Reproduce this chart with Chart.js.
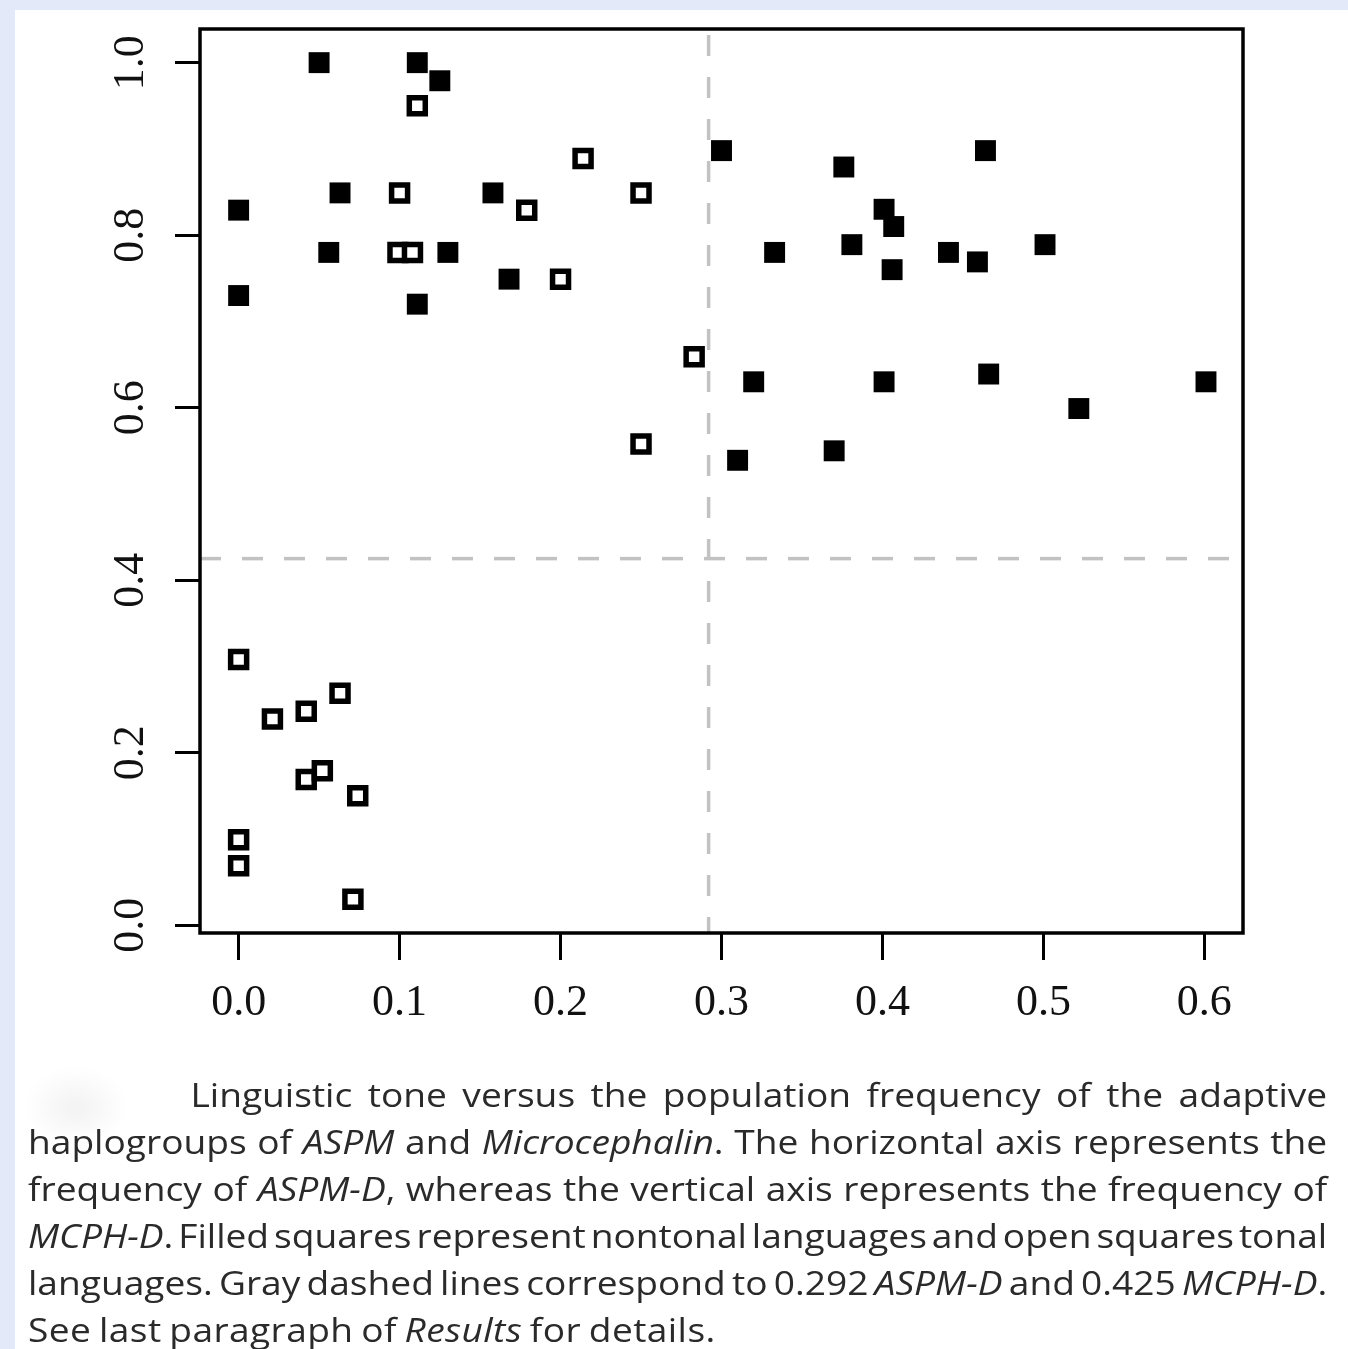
<!DOCTYPE html>
<html>
<head>
<meta charset="utf-8">
<script src="https://cdn.jsdelivr.net/npm/chart.js@4.4.1/dist/chart.umd.min.js"></script>
<style>
  html, body { margin: 0; padding: 0; }
  body { width: 1348px; height: 1349px; background: #e3e9f8; position: relative; overflow: hidden; }
  #panel { position: absolute; left: 15px; top: 10px; right: 0; bottom: 0; background: #fff; }
  #chart-wrap { position: absolute; left: 0; top: 0; width: 1348px; height: 1050px; }
  #blob { position: absolute; left: 24px; top: 1068px; width: 104px; height: 66px;
          background: radial-gradient(ellipse at 50% 60%, rgba(0,0,0,0.05), rgba(0,0,0,0) 70%); filter: blur(4px); }
  #caption { position: absolute; left: 28px; top: 1071px; width: 1120px;
             transform: scaleX(1.16); transform-origin: 0 0;
             font-family: "Open Sans", sans-serif; font-size: 32px; line-height: 47px; color: #2a2a2a;
             word-spacing: -2px; }
  #caption .l { text-align: justify; text-align-last: justify; white-space: nowrap; }
  #caption .l.tight { word-spacing: -5px; }
  #caption .l.last { text-align-last: left; letter-spacing: 0.35px; }
  #caption .first { text-indent: 140px; }
</style>
</head>
<body>
<div id="panel"></div>
<div id="chart-wrap"><canvas id="grafico"></canvas></div>
<div id="blob"></div>
<div id="caption">
  <div class="l first">Linguistic tone versus the population frequency of the adaptive</div>
  <div class="l">haplogroups of <i>ASPM</i> and <i>Microcephalin</i>. The horizontal axis represents the</div>
  <div class="l">frequency of <i>ASPM-D</i>, whereas the vertical axis represents the frequency of</div>
  <div class="l tight"><i>MCPH-D</i>. Filled squares represent nontonal languages and open squares tonal</div>
  <div class="l tight">languages. Gray dashed lines correspond to 0.292 <i>ASPM-D</i> and 0.425 <i>MCPH-D</i>.</div>
  <div class="l last">See last paragraph of <i>Results</i> for details.</div>
</div>
<script>
  // ASPM-D (x) y MCPH-D (y), cuadrados llenos = lenguas no tonales
  const nontonalX = [0.050, 0.111, 0.125, 0.000, 0.000, 0.063, 0.056, 0.130, 0.111, 0.158,
                     0.168, 0.300, 0.376, 0.464, 0.401, 0.407, 0.333, 0.381, 0.406, 0.441,
                     0.459, 0.501, 0.320, 0.401, 0.466, 0.601, 0.522, 0.310, 0.370];
  const nontonalY = [1.000, 1.000, 0.979, 0.829, 0.730, 0.849, 0.780, 0.780, 0.720, 0.849,
                     0.749, 0.898, 0.879, 0.898, 0.830, 0.810, 0.780, 0.789, 0.760, 0.780,
                     0.769, 0.789, 0.630, 0.630, 0.639, 0.630, 0.599, 0.539, 0.550];

  // cuadrados abiertos = lenguas tonales
  const tonalX = [0.111, 0.214, 0.250, 0.100, 0.179, 0.099, 0.108, 0.200, 0.283, 0.250,
                  0.000, 0.021, 0.042, 0.063, 0.042, 0.052, 0.074, 0.000, 0.000, 0.071];
  const tonalY = [0.950, 0.889, 0.849, 0.849, 0.829, 0.780, 0.780, 0.749, 0.659, 0.558,
                  0.308, 0.239, 0.248, 0.269, 0.169, 0.179, 0.150, 0.099, 0.069, 0.030];

  const xTicks = [0, 0.1, 0.2, 0.3, 0.4, 0.5, 0.6];
  const xTickLabels = ["0.0", "0.1", "0.2", "0.3", "0.4", "0.5", "0.6"];
  const yTicks = [0, 0.2, 0.4, 0.6, 0.8, 1.0];
  const yTickLabels = ["0.0", "0.2", "0.4", "0.6", "0.8", "1.0"];

  const umbralASPM = 0.292;
  const umbralMCPH = 0.425;

  const toPoints = (xs, ys) => xs.map((x, i) => ({ x: x, y: ys[i] }));

  const tickFont = { family: "'Liberation Serif', 'Times New Roman', serif", size: 44 };

  const marcoYLineas = {
    id: "marcoYLineas",
    beforeDatasetsDraw(chart) {
      const { ctx, chartArea: a, scales: { x, y } } = chart;
      ctx.save();
      ctx.strokeStyle = "#c2c2c2";
      ctx.lineWidth = 3.5;
      ctx.setLineDash([21, 21]);
      const px = x.getPixelForValue(umbralASPM);
      ctx.lineDashOffset = 36;
      ctx.beginPath();
      ctx.moveTo(px, a.top);
      ctx.lineTo(px, a.bottom);
      ctx.stroke();
      const py = y.getPixelForValue(umbralMCPH);
      ctx.lineDashOffset = 0;
      ctx.beginPath();
      ctx.moveTo(a.left, py);
      ctx.lineTo(a.right, py);
      ctx.stroke();
      ctx.restore();
    },
    afterDraw(chart) {
      const { ctx, chartArea: a } = chart;
      ctx.save();
      ctx.strokeStyle = "#000";
      ctx.lineWidth = 3.5;
      ctx.strokeRect(a.left, a.top, a.right - a.left, a.bottom - a.top);
      ctx.restore();
    }
  };

  new Chart(document.querySelector("#grafico"), {
    type: "scatter",
    data: {
      datasets: [
        {
          label: "nontonal",
          data: toPoints(nontonalX, nontonalY),
          pointStyle: "rect",
          pointRadius: 14.8,
          backgroundColor: "#000",
          borderColor: "#000",
          borderWidth: 0
        },
        {
          label: "tonal",
          data: toPoints(tonalX, tonalY),
          pointStyle: "rect",
          pointRadius: 11.3,
          backgroundColor: "#fff",
          borderColor: "#000",
          borderWidth: 5.5
        }
      ]
    },
    options: {
      responsive: true,
      maintainAspectRatio: false,
      devicePixelRatio: 1,
      animation: false,
      clip: false,
      layout: { padding: { top: 29, right: 105, left: 0, bottom: 0 } },
      plugins: { legend: { display: false }, tooltip: { enabled: false } },
      scales: {
        x: {
          type: "linear",
          min: -0.024,
          max: 0.624,
          afterBuildTicks: s => { s.ticks = xTicks.map(v => ({ value: v })); },
          afterFit: s => { s.height = 117; s.paddingLeft = 0; s.paddingRight = 0; },
          border: { display: false },
          grid: { display: true, drawOnChartArea: false, drawTicks: true, tickLength: 27, tickWidth: 3, tickColor: "#000" },
          ticks: {
            font: tickFont,
            color: "#111",
            padding: 17,
            maxRotation: 0,
            autoSkip: false,
            callback: (v, i) => xTickLabels[i]
          }
        },
        y: {
          type: "linear",
          min: -0.009,
          max: 1.039,
          afterBuildTicks: s => { s.ticks = yTicks.map(v => ({ value: v })); },
          afterFit: s => { s.width = 200; s.paddingTop = 0; s.paddingBottom = 0; },
          border: { display: false },
          grid: { display: true, drawOnChartArea: false, drawTicks: true, tickLength: 25, tickWidth: 3, tickColor: "#000" },
          ticks: {
            font: tickFont,
            color: "#111",
            padding: 16,
            minRotation: 90,
            maxRotation: 90,
            crossAlign: "center",
            autoSkip: false,
            callback: (v, i) => yTickLabels[i]
          }
        }
      }
    },
    plugins: [marcoYLineas]
  });
</script>
</body>
</html>
